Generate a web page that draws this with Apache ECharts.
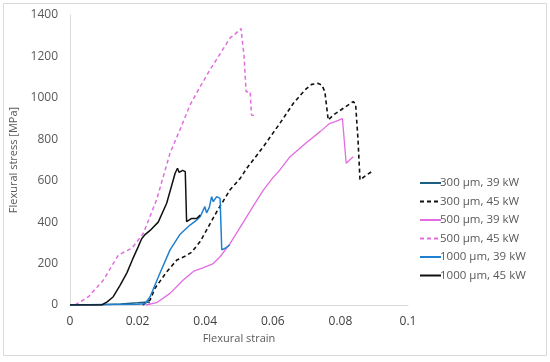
<!DOCTYPE html>
<html><head><meta charset="utf-8">
<script src="https://cdn.jsdelivr.net/npm/echarts@6/dist/echarts.min.js"></script>
<style>html,body{margin:0;padding:0;background:#fff}#c{width:550px;height:362px}</style>
</head><body><div id="c"></div>
<script>
const seriesNames = ["300 µm, 39 kW","300 µm, 45 kW","500 µm, 39 kW","500 µm, 45 kW","1000 µm, 39 kW","1000 µm, 45 kW"];
const xTicks = [0, 0.02, 0.04, 0.06, 0.08, 0.1];
const yTicks = [0, 200, 400, 600, 800, 1000, 1200, 1400];

const s300_39 = [[0,0],[0.009,1],[0.015,5],[0.02,11],[0.0232,15],[0.0236,8]];
const s300_45 = [[0.0215,0],[0.0237,24],[0.0251,80],[0.0286,160],[0.0316,217],[0.034,235],[0.036,255],[0.0385,306],[0.0404,362],[0.0434,450],[0.0473,555],[0.0503,610],[0.0523,660],[0.0572,764],[0.0621,877],[0.0661,974],[0.0695,1038],[0.0715,1065],[0.0733,1070],[0.0745,1062],[0.0754,1030],[0.0764,893],[0.0779,917],[0.0809,950],[0.0838,982],[0.0845,970],[0.0852,800],[0.0858,604],[0.0875,625],[0.0893,644]];
const s500_39 = [[0.0225,0],[0.0256,11],[0.0296,56],[0.0335,121],[0.0365,162],[0.0395,180],[0.0424,200],[0.0444,233],[0.0473,295],[0.0513,400],[0.0543,480],[0.0572,555],[0.0601,616],[0.0621,652],[0.0651,716],[0.07,785],[0.074,837],[0.0769,877],[0.0785,885],[0.0806,900],[0.0817,684],[0.0838,716]];
const s500_45 = [[0.0015,0],[0.0055,40],[0.0099,121],[0.0143,241],[0.0183,274],[0.0217,346],[0.0256,507],[0.0296,733],[0.0325,845],[0.0355,965],[0.0385,1054],[0.0414,1135],[0.0445,1215],[0.0473,1288],[0.049,1310],[0.0506,1335],[0.0515,1200],[0.0521,1030],[0.0533,1030],[0.0537,917],[0.0545,914]];
const s1000_39 = [[0,0],[0.01,2],[0.02,4],[0.0222,6],[0.0237,40],[0.0266,153],[0.0296,266],[0.0325,340],[0.0355,386],[0.0375,410],[0.0385,426],[0.0399,475],[0.0404,445],[0.0412,470],[0.0419,523],[0.0424,499],[0.0434,523],[0.0444,515],[0.0449,266],[0.0459,274],[0.0473,290]];
const s1000_45 = [[0,0],[0.0094,0],[0.011,15],[0.0128,40],[0.0148,95],[0.0168,154],[0.0185,220],[0.0202,282],[0.0212,320],[0.0222,340],[0.0237,360],[0.0261,400],[0.0286,491],[0.0311,636],[0.0318,660],[0.0323,640],[0.0327,632],[0.0333,650],[0.0341,644],[0.0345,402],[0.036,418],[0.0375,418],[0.0385,434]];

const dataList = [s300_39, s300_45, s500_39, s500_45, s1000_39, s1000_45];
const colors = ["#1d5f80","#111111","#e36ce0","#e36ce0","#1f80d2","#111111"];
const dashes = ["solid",[4,3],"solid",[4,3],"solid","solid"];
const widths = [1.5,1.6,1.3,1.5,1.5,1.5];

const FONT = "Open Sans";
const chart = echarts.init(document.getElementById('c'), null, {renderer:'canvas'});
chart.setOption({
  animation:false,
  textStyle:{fontFamily:FONT},
  graphic:[{type:'rect',shape:{x:3.5,y:3.5,width:543,height:352},style:{fill:'none',stroke:'#d9d9d9',lineWidth:1},silent:true}],
  grid:{left:70,right:142,top:15,bottom:57,containLabel:false},
  legend:{
    orient:'vertical',left:414,top:172,
    itemWidth:21,itemHeight:14,itemGap:6.5,
    data:seriesNames,
    itemStyle:{opacity:0},
    textStyle:{fontFamily:FONT,fontSize:11.5,color:'#595959',padding:[0,0,0,-6]}
  },
  xAxis:{
    type:'value',min:0,max:0.1,interval:0.02,
    name:'Flexural strain',nameLocation:'middle',nameGap:28,
    nameTextStyle:{fontFamily:FONT,fontSize:11,color:'#595959'},
    axisLine:{show:true,lineStyle:{color:'#d9d9d9',width:1}},
    axisTick:{show:false},splitLine:{show:false},
    axisLabel:{fontFamily:FONT,fontSize:12,color:'#404040',margin:11,
      formatter:function(v){const m=xTicks.find(t=>Math.abs(t-v)<1e-9);return String(m!==undefined?m:v);}}
  },
  yAxis:{
    type:'value',min:0,max:1400,interval:200,
    name:'Flexural stress [MPa]',nameLocation:'middle',nameGap:47,
    nameTextStyle:{fontFamily:FONT,fontSize:11,color:'#595959'},
    axisLine:{show:true,lineStyle:{color:'#d9d9d9',width:1}},
    axisTick:{show:false},splitLine:{show:false},
    axisLabel:{fontFamily:FONT,fontSize:12,color:'#595959',margin:12,
      formatter:function(v){const m=yTicks.find(t=>t===v);return String(m!==undefined?m:v);}}
  },
  series: seriesNames.map((n,i)=>({
    name:n,type:'line',data:dataList[i],showSymbol:false,symbol:'none',smooth:false,
    lineStyle:{color:colors[i],width:widths[i],type:dashes[i]},
    itemStyle:{color:colors[i]},
    z: [2,3,3,3,4,5][i]
  }))
});
</script></body></html>
